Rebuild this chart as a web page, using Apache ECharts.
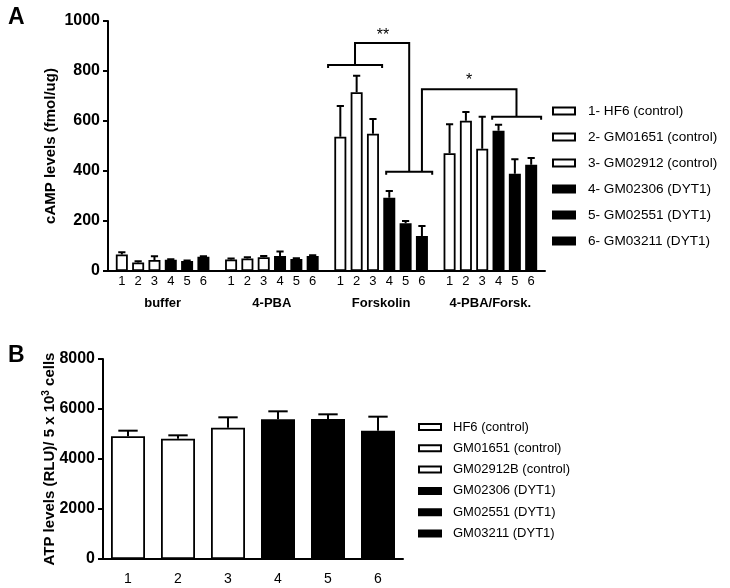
<!DOCTYPE html>
<html><head><meta charset="utf-8">
<script src="https://cdn.jsdelivr.net/npm/echarts@6/dist/echarts.min.js"></script>
<style>html,body{margin:0;padding:0;background:#fff}#c{width:730px;height:588px}</style>
</head><body><div id="c"></div>
<script>
// ---------- Panel A data (cAMP, fmol/ug) ----------
var groupsA = ['buffer', '4-PBA', 'Forskolin', '4-PBA/Forsk.'];
var linesA = ['1- HF6 (control)', '2- GM01651 (control)', '3- GM02912 (control)',
              '4- GM02306 (DYT1)', '5- GM02551 (DYT1)', '6- GM03211 (DYT1)'];
var barNumbers = ['1', '2', '3', '4', '5', '6'];
var isControl = [true, true, true, false, false, false];
var campBuffer      = [66, 34, 44, 45, 40, 57];
var sdBuffer        = [9, 5, 15, 2, 2, 2];
var campPBA         = [46, 50, 55, 60, 48, 60];
var sdPBA           = [4, 5, 5, 18, 3, 3];
var campForsk       = [537, 715, 549, 293, 191, 140];
var sdForsk         = [123, 66, 59, 27, 9, 40];
var campPBAForsk    = [471, 601, 489, 561, 389, 425];
var sdPBAForsk      = [116, 35, 128, 24, 58, 27];
var ticksA = [0, 200, 400, 600, 800, 1000];

// significance brackets: points [groupIndex, barPosition, value]
var bracketPaths = [
  [[2, -0.75, 812], [2, -0.75, 824], [2, 2.56, 824], [2, 2.56, 812]],
  [[2, 0.9, 824], [2, 0.9, 912], [2, 4.22, 912], [2, 4.22, 397]],
  [[2, 2.81, 385], [2, 2.81, 397], [2, 5.63, 397], [2, 5.63, 385]],
  [[2, 5.0, 397], [2, 5.0, 727], [3, 4.1, 727], [3, 4.1, 617]],
  [[3, 2.61, 605], [3, 2.61, 617], [3, 5.61, 617], [3, 5.61, 605]]
];
var starLabels = [[2, 2.62, 942, '**'], [3, 1.2, 762, '*']];

// ---------- Panel B data (ATP, RLU / 5x10^3 cells) ----------
var linesB = ['HF6 (control)', 'GM01651 (control)', 'GM02912B (control)',
              'GM02306 (DYT1)', 'GM02551 (DYT1)', 'GM03211 (DYT1)'];
var categoriesB = ['1', '2', '3', '4', '5', '6'];
var atpMean = [4907, 4813, 5253, 5587, 5600, 5133];
var atpSd   = [226, 134, 414, 320, 187, 560];
var ticksB = [0, 2000, 4000, 6000, 8000];

// ---------- build ----------
var FONT = '"Liberation Sans", Arial, Helvetica, sans-serif';
var meansA = [campBuffer, campPBA, campForsk, campPBAForsk];
var sdsA = [sdBuffer, sdPBA, sdForsk, sdPBAForsk];
var BW_A = 12, GAP_A = 0.36, NA = 6;
var STEP_A = BW_A * (1 + GAP_A);
var FIRST_A = -(NA * BW_A + (NA - 1) * BW_A * GAP_A) / 2 + BW_A / 2;
var BORDER = 1.8;

function colorOf(ctrl) { return ctrl ? '#ffffff' : '#000000'; }

var series = [];
linesA.forEach(function (name, i) {
  series.push({
    type: 'bar', name: name, xAxisIndex: 0, yAxisIndex: 0,
    data: meansA.map(function (g) { return g[i]; }),
    barWidth: BW_A, barGap: (GAP_A * 100) + '%',
    itemStyle: { color: colorOf(isControl[i]), borderColor: '#000', borderWidth: BORDER },
    label: { show: true, position: 'bottom', distance: 4, formatter: barNumbers[i],
             color: '#000', fontSize: 13, fontFamily: FONT },
    z: 2
  });
});
linesB.forEach(function (name, i) {
  series.push({
    type: 'bar', name: name, xAxisIndex: 1, yAxisIndex: 1, stack: 'atp',
    data: categoriesB.map(function (c, j) { return j === i ? atpMean[i] : '-'; }),
    barWidth: '68%',
    itemStyle: { color: colorOf(isControl[i]), borderColor: '#000', borderWidth: BORDER },
    z: 2
  });
});

// error bars A
var errA = [];
meansA.forEach(function (g, gi) {
  g.forEach(function (m, si) { errA.push([gi, m, si, sdsA[gi][si]]); });
});
series.push({
  type: 'custom', xAxisIndex: 0, yAxisIndex: 0, data: errA, z: 5, silent: true,
  encode: { x: 0, y: 1 },
  renderItem: function (params, api) {
    var b = api.coord([api.value(0), api.value(1)]);
    var t = api.coord([api.value(0), api.value(1) + api.value(3)]);
    var x = b[0] + FIRST_A + api.value(2) * STEP_A;
    var cap = BW_A * 0.6;
    var st = { stroke: '#000', lineWidth: 2 };
    return { type: 'group', children: [
      { type: 'line', shape: { x1: x, y1: b[1], x2: x, y2: t[1] }, style: st },
      { type: 'line', shape: { x1: x - cap / 2, y1: t[1], x2: x + cap / 2, y2: t[1] }, style: st }
    ] };
  }
});
// error bars B
series.push({
  type: 'custom', xAxisIndex: 1, yAxisIndex: 1, z: 5, silent: true,
  data: atpMean.map(function (m, i) { return [i, m, atpSd[i]]; }),
  encode: { x: 0, y: 1 },
  renderItem: function (params, api) {
    var b = api.coord([api.value(0), api.value(1)]);
    var t = api.coord([api.value(0), api.value(1) + api.value(2)]);
    var bw = api.size([1, 0])[0] * 0.68;
    var cap = bw * 0.57;
    var st = { stroke: '#000', lineWidth: 2 };
    return { type: 'group', children: [
      { type: 'line', shape: { x1: b[0], y1: b[1], x2: b[0], y2: t[1] }, style: st },
      { type: 'line', shape: { x1: b[0] - cap / 2, y1: t[1], x2: b[0] + cap / 2, y2: t[1] }, style: st }
    ] };
  }
});
// brackets
function ptA(api, p) {
  var c = api.coord([p[0], p[2]]);
  return [c[0] + FIRST_A + p[1] * STEP_A, c[1]];
}
series.push({
  type: 'custom', xAxisIndex: 0, yAxisIndex: 0, z: 6, silent: true,
  data: bracketPaths.map(function (p, i) { return [p[0][0], p[0][2], i]; }),
  encode: { x: 0, y: 1 },
  renderItem: function (params, api) {
    var path = bracketPaths[api.value(2)];
    return { type: 'polyline', shape: { points: path.map(function (p) { return ptA(api, p); }) },
             style: { stroke: '#000', lineWidth: 2, fill: null } };
  }
});
series.push({
  type: 'custom', xAxisIndex: 0, yAxisIndex: 0, z: 6, silent: true,
  data: starLabels.map(function (s, i) { return [s[0], s[2], i]; }),
  encode: { x: 0, y: 1 },
  renderItem: function (params, api) {
    var s = starLabels[api.value(2)];
    var p = ptA(api, s);
    return { type: 'text', x: p[0], y: p[1],
             style: { text: s[3], font: '16px ' + FONT, fill: '#000',
                      align: 'center', verticalAlign: 'middle' } };
  }
});

var axisLineSt = { show: true, lineStyle: { color: '#000', width: 2 } };
function plain(v) { return String(v); }
var option = {
  animation: false,
  backgroundColor: '#fff',
  textStyle: { fontFamily: FONT },
  grid: [
    { left: 108, top: 21, width: 437, height: 250 },
    { left: 103, top: 359, width: 300, height: 200 }
  ],
  xAxis: [
    { gridIndex: 0, type: 'category', data: groupsA, axisLine: axisLineSt,
      axisTick: { show: false },
      axisLabel: { color: '#000', fontWeight: 'bold', fontSize: 13, margin: 26, fontFamily: FONT } },
    { gridIndex: 1, type: 'category', data: categoriesB, axisLine: axisLineSt,
      axisTick: { show: false },
      axisLabel: { color: '#000', fontSize: 14, margin: 13, fontFamily: FONT } }
  ],
  yAxis: [
    { gridIndex: 0, type: 'value', min: ticksA[0], max: ticksA[ticksA.length - 1], interval: ticksA[1] - ticksA[0],
      axisLine: axisLineSt, axisTick: { show: true, length: 5, lineStyle: { color: '#000', width: 2 } },
      axisLabel: { color: '#000', fontWeight: 'bold', fontSize: 16, margin: 8, fontFamily: FONT, formatter: plain },
      splitLine: { show: false },
      name: 'cAMP levels (fmol/ug)', nameLocation: 'middle', nameGap: 50, nameMoveOverlap: false,
      nameTextStyle: { color: '#000', fontWeight: 'bold', fontSize: 15, fontFamily: FONT } },
    { gridIndex: 1, type: 'value', min: ticksB[0], max: ticksB[ticksB.length - 1], interval: ticksB[1] - ticksB[0],
      axisLine: axisLineSt, axisTick: { show: true, length: 5, lineStyle: { color: '#000', width: 2 } },
      axisLabel: { color: '#000', fontWeight: 'bold', fontSize: 16, margin: 8, fontFamily: FONT, formatter: plain },
      splitLine: { show: false },
      name: 'ATP levels (RLU)/ 5 x 10{sup|3} cells', nameLocation: 'middle', nameGap: 45, nameMoveOverlap: false,
      nameTextStyle: { color: '#000', fontWeight: 'bold', fontSize: 15, fontFamily: FONT, lineHeight: 17,
        rich: { sup: { fontSize: 10, fontWeight: 'bold', verticalAlign: 'top', lineHeight: 17, fontFamily: FONT } } } }
  ],
  legend: [
    { orient: 'vertical', left: 552, top: 104, padding: 0, itemWidth: 22, itemHeight: 7, itemGap: 12,
      icon: 'rect', selectedMode: false, data: linesA,
      textStyle: { color: '#000', fontSize: 13.6, lineHeight: 14, fontFamily: FONT, padding: [0, 0, 0, 8] } },
    { orient: 'vertical', left: 418, top: 420, padding: 0, itemWidth: 22, itemHeight: 6, itemGap: 7.3,
      icon: 'rect', selectedMode: false, data: linesB,
      textStyle: { color: '#000', fontSize: 13, lineHeight: 14, fontFamily: FONT, padding: [0, 0, 0, 7] } }
  ],
  graphic: [
    { type: 'text', left: 8, top: 6, style: { text: 'A', font: 'bold 23px ' + FONT, fill: '#000' } },
    { type: 'text', left: 8, top: 344, style: { text: 'B', font: 'bold 23px ' + FONT, fill: '#000' } }
  ],
  series: series
};
var chart = echarts.init(document.getElementById('c'), null, { renderer: 'canvas' });
chart.setOption(option);
</script>
</body></html>
